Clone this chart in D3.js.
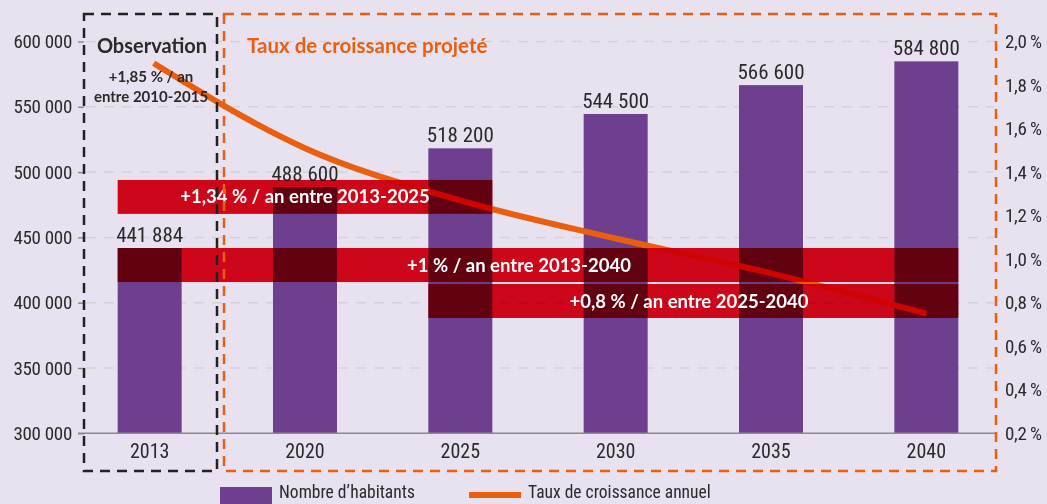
<!DOCTYPE html>
<html>
<head>
<meta charset="utf-8">
<script src="https://cdn.jsdelivr.net/npm/d3@7"></script>
<style>
  body { margin: 0; background: #e8e1f0; }
  svg { display: block; }
  .narrow { font-family: "Liberation Sans Narrow", "Roboto Condensed", "DejaVu Sans Condensed", sans-serif; }
  .bold { font-family: Lato, "Open Sans", sans-serif; font-weight: 700; }
</style>
</head>
<body>
<div id="chart"></div>
<script>
// données
const years = ["2013", "2020", "2025", "2030", "2035", "2040"];
const habitants = [441884, 488600, 518200, 544500, 566600, 584800];
const tauxAnnuel = [1.90, 1.51, 1.27, 1.095, 0.935, 0.75];
const leftTicks = [300000, 350000, 400000, 450000, 500000, 550000, 600000];
const rightTicks = [0.2, 0.4, 0.6, 0.8, 1.0, 1.2, 1.4, 1.6, 1.8, 2.0];
const bandLabels = ["+1,34 % / an entre 2013-2025", "+1 % / an entre 2013-2040", "+0,8 % / an entre 2025-2040"];
const bandFrom = ["2013", "2013", "2025"];
const bandTo = ["2025", "2040", "2040"];
const legendLabels = ["Nombre d\u2019habitants", "Taux de croissance annuel"];

const width = 1047, height = 504;
const colors = { bg: "#e8e1f0", bar: "#6e3f8f", line: "#ea5f0e", band: "#e2061b", grid: "#d5d2d6", text: "#2a2a2a" };

const fr = d3.formatLocale({ decimal: ",", thousands: "\u2009", grouping: [3], currency: ["", ""] });
const fmtN = v => fr.format(",")(v).replace(/\u2009/g, " ");
const fmtP = v => fr.format(".1f")(v) + "\u2009%";

const svg = d3.select("#chart").append("svg")
    .attr("width", width)
    .attr("height", height);

svg.append("rect").attr("width", width).attr("height", height).attr("fill", colors.bg);

const x = d3.scaleBand()
    .domain(years)
    .range([72, 1004])
    .paddingInner(0.588)
    .paddingOuter(0.294);

const y = d3.scaleLinear().domain([300000, 600000]).range([433.3, 41.5]);
const y2 = d3.scaleLinear().domain([0.2, 2.0]).range([433.3, 41.5]);

// grille
svg.append("g")
    .selectAll("line")
    .data(leftTicks.slice(1))
    .enter().append("line")
    .attr("x1", 86).attr("x2", 994)
    .attr("y1", d => y(d)).attr("y2", d => y(d))
    .attr("stroke", colors.grid)
    .attr("stroke-width", 1.5)
    .attr("stroke-dasharray", "10,8");

// axe gauche
const axL = svg.append("g")
    .attr("transform", "translate(84,0)")
    .call(d3.axisLeft(y).tickValues(leftTicks).tickFormat(fmtN).tickSize(6).tickPadding(6));
axL.select(".domain").remove();
axL.selectAll("line").attr("stroke", "#8a8a8a").attr("stroke-width", 1.5);
axL.selectAll("text").attr("class", "narrow").attr("font-size", 19).attr("fill", colors.text).attr("letter-spacing", -0.3);

// axe droit
const axR = svg.append("g")
    .attr("transform", "translate(998,0)")
    .call(d3.axisRight(y2).tickValues(rightTicks).tickFormat(fmtP).tickSize(0).tickPadding(7));
axR.select(".domain").remove();
axR.selectAll("text").attr("class", "narrow").attr("font-size", 19).attr("fill", colors.text).attr("letter-spacing", -0.3);

// barres
svg.append("g")
    .selectAll("rect")
    .data(habitants)
    .enter().append("rect")
    .attr("x", (d, i) => x(years[i]))
    .attr("y", d => y(d))
    .attr("width", x.bandwidth())
    .attr("height", d => y(300000) - y(d))
    .attr("fill", colors.bar);

// ligne de base
svg.append("line")
    .attr("x1", 78).attr("x2", 995)
    .attr("y1", y(300000)).attr("y2", y(300000))
    .attr("stroke", "#8a8a8a").attr("stroke-width", 1.5);

// axe des années
const axB = svg.append("g")
    .attr("transform", `translate(0,${y(300000)})`)
    .call(d3.axisBottom(x).tickSize(0).tickPadding(11));
axB.select(".domain").remove();
axB.selectAll("text").attr("class", "narrow").attr("font-size", 20).attr("fill", colors.text);

// étiquettes des barres
svg.append("g")
    .selectAll("text")
    .data(habitants)
    .enter().append("text")
    .attr("class", "narrow")
    .attr("x", (d, i) => x(years[i]) + x.bandwidth() / 2)
    .attr("y", d => y(d) - 6)
    .attr("text-anchor", "middle")
    .attr("font-size", 21)
    .attr("fill", colors.text)
    .text(d => fmtN(d));

// courbe du taux
const line = d3.line()
    .x((d, i) => x(years[i]) + x.bandwidth() / 2 + (i === 0 ? 4 : 0))
    .y(d => y2(d))
    .curve(d3.curveMonotoneX);

svg.append("path")
    .datum(tauxAnnuel)
    .attr("fill", "none")
    .attr("stroke", colors.line)
    .attr("stroke-width", 6)
    .attr("d", line);

// bandeaux
const bandRanges = [[494000, 468000], [441884, 415800], [414300, 388300]];
const bandTextX = [305, 519, 689];
const bands = svg.append("g");
bandLabels.forEach((lab, i) => {
    const x0 = x(bandFrom[i]), x1 = x(bandTo[i]) + x.bandwidth();
    bands.append("rect")
        .attr("x", x0)
        .attr("y", y(bandRanges[i][0]))
        .attr("width", x1 - x0)
        .attr("height", y(bandRanges[i][1]) - y(bandRanges[i][0]))
        .attr("fill", colors.band)
        .style("mix-blend-mode", "multiply");
});
bandLabels.forEach((lab, i) => {
    const yc = (y(bandRanges[i][0]) + y(bandRanges[i][1])) / 2;
    svg.append("text")
        .attr("class", "bold")
        .attr("x", bandTextX[i])
        .attr("y", yc + 6.5)
        .attr("text-anchor", "middle")
        .attr("font-size", 18.5)
        .attr("fill", "#fff")
        .text(lab);
});

// cadres pointillés
svg.append("rect")
    .attr("x", 84).attr("y", 14).attr("width", 133).attr("height", 457)
    .attr("fill", "none").attr("stroke", "#222").attr("stroke-width", 2.5)
    .attr("stroke-dasharray", "10,7");
svg.append("rect")
    .attr("x", 224).attr("y", 14).attr("width", 772).attr("height", 457)
    .attr("fill", "none").attr("stroke", colors.line).attr("stroke-width", 2.5)
    .attr("stroke-dasharray", "10,7");

svg.append("text").attr("class", "bold")
    .attr("x", 152).attr("y", 53).attr("text-anchor", "middle")
    .attr("font-size", 20).attr("fill", colors.text)
    .text("Observation");
svg.append("text").attr("class", "bold")
    .attr("x", 151).attr("y", 82).attr("text-anchor", "middle")
    .attr("font-size", 15).attr("fill", colors.text)
    .text("+1,85 % / an");
svg.append("text").attr("class", "bold")
    .attr("x", 151).attr("y", 102).attr("text-anchor", "middle")
    .attr("font-size", 15).attr("fill", colors.text)
    .text("entre 2010-2015");
svg.append("text").attr("class", "bold")
    .attr("x", 247).attr("y", 53)
    .attr("font-size", 20.5).attr("fill", colors.line)
    .text("Taux de croissance projeté");

// légende
svg.append("rect").attr("x", 220).attr("y", 487).attr("width", 52).attr("height", 17).attr("fill", colors.bar);
svg.append("text").attr("class", "narrow")
    .attr("x", 279).attr("y", 498).attr("font-size", 17.5).attr("fill", colors.text)
    .text(legendLabels[0]);
svg.append("line").attr("x1", 469).attr("x2", 521).attr("y1", 495).attr("y2", 495)
    .attr("stroke", colors.line).attr("stroke-width", 6);
svg.append("text").attr("class", "narrow")
    .attr("x", 528).attr("y", 498).attr("font-size", 17.5).attr("fill", colors.text)
    .text(legendLabels[1]);
</script>
</body>
</html>
